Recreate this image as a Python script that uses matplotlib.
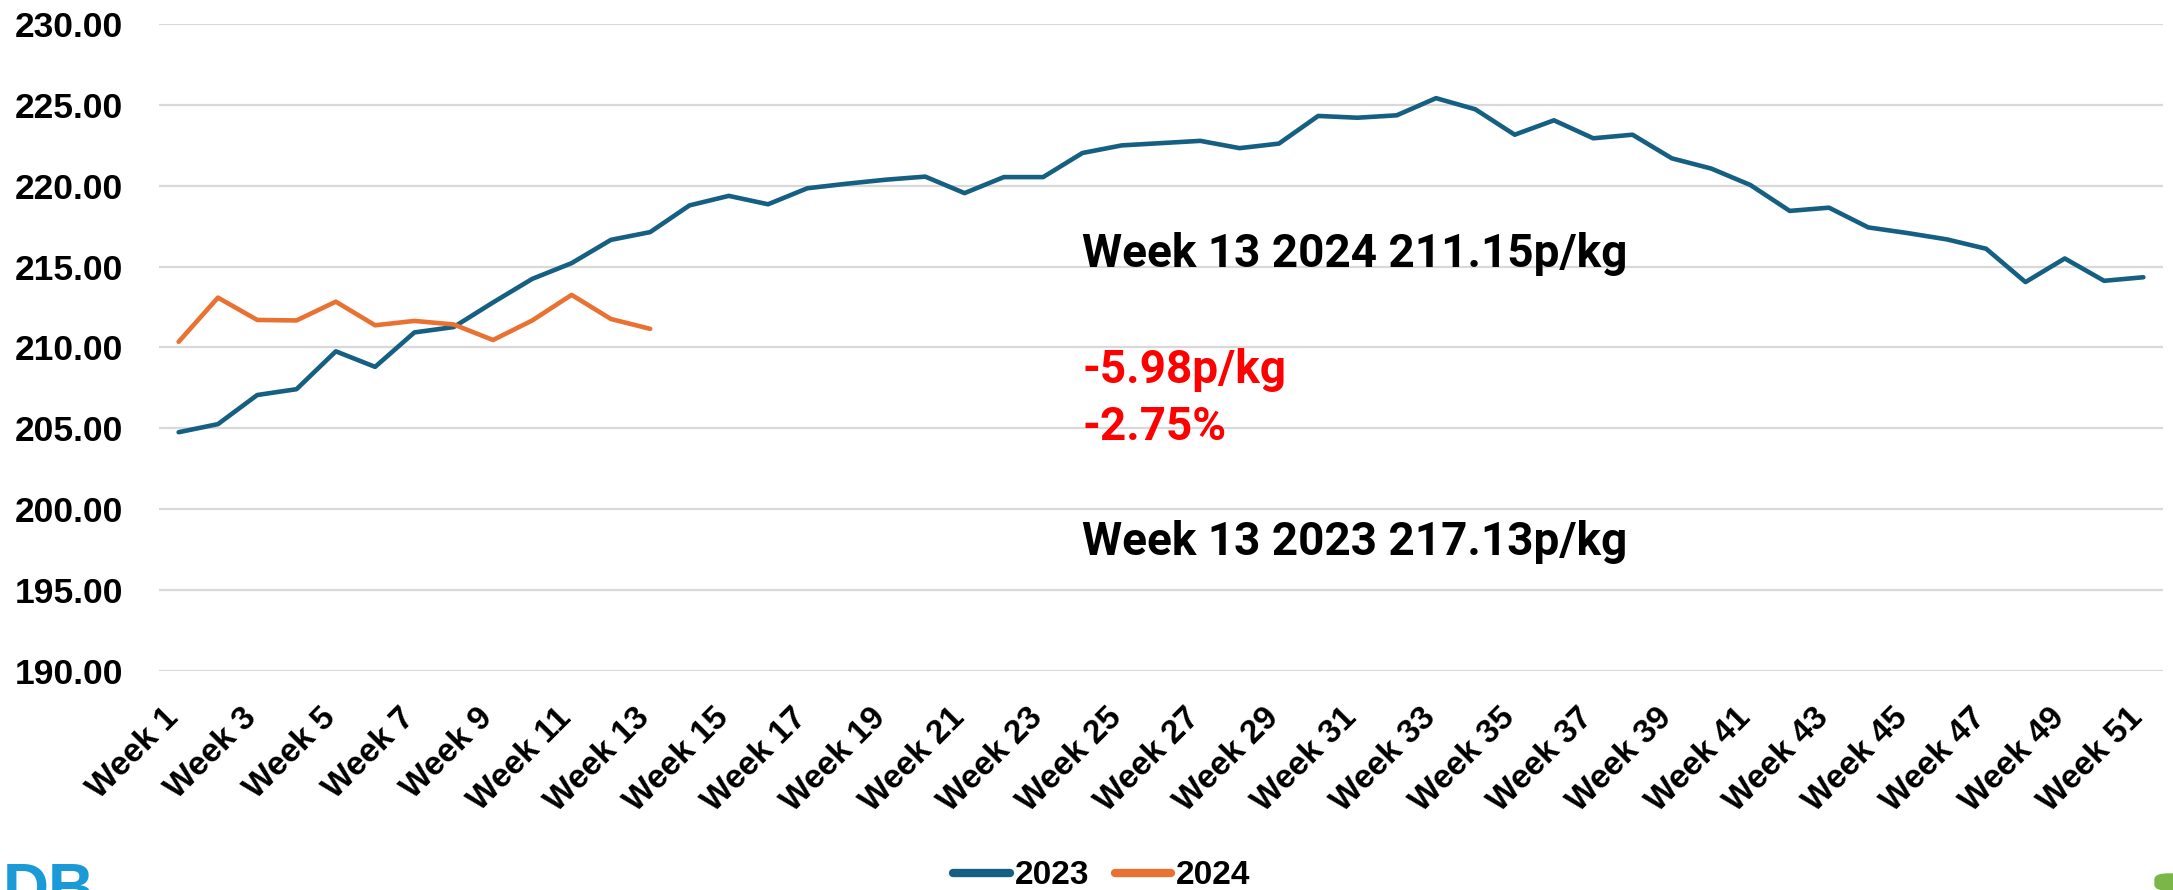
import matplotlib
matplotlib.use("Agg")
import matplotlib.pyplot as plt
import matplotlib.transforms as mtransforms
from matplotlib.patches import FancyBboxPatch

# weekly prices, p/kg
weeks = ["Week %d" % i for i in range(1, 52)]
price_2023 = [204.76, 205.26, 207.06, 207.42, 209.76, 208.80, 210.93, 211.26, 212.78, 214.24,
              215.21, 216.65, 217.13, 218.78, 219.37, 218.85, 219.84, 220.12, 220.37, 220.56,
              219.54, 220.53, 220.53, 222.02, 222.49, 222.63, 222.77, 222.32, 222.60, 224.31,
              224.20, 224.35, 225.41, 224.72, 223.15, 224.04, 222.93, 223.15, 221.69, 221.06,
              220.04, 218.44, 218.64, 217.42, 217.07, 216.68, 216.10, 214.04, 215.50, 214.12,
              214.34]
price_2024 = [210.35, 213.08, 211.70, 211.67, 212.83, 211.37, 211.64, 211.42, 210.46, 211.67,
              213.25, 211.76, 211.15]
yticks = [190, 195, 200, 205, 210, 215, 220, 225, 230]

blue = "#156082"
orange = "#E97132"
tick_font = "Liberation Sans"
note_font = "Roboto"

fig = plt.figure(figsize=(21.73, 8.90), dpi=100)
ax = fig.add_axes([159 / 2173, 1 - 671 / 890, (2163 - 159) / 2173, (671 - 23.9) / 890])

x23 = list(range(len(price_2023)))
x24 = list(range(len(price_2024)))
ax.plot(x23, price_2023, color=blue, lw=3.3, solid_capstyle="round", solid_joinstyle="round", label="2023", zorder=3)
ax.plot(x24, price_2024, color=orange, lw=3.3, solid_capstyle="round", solid_joinstyle="round", label="2024", zorder=3)

ax.set_xlim(-0.5, len(weeks) - 0.5)
ax.set_ylim(190, 230)
ax.set_yticks(yticks)
ax.set_yticklabels(["%.2f" % v for v in yticks], fontsize=25.5, fontweight="bold", family=tick_font)
ax.yaxis.grid(True, color="#D9D9D9", lw=1.6)
ax.set_axisbelow(True)
for s in ax.spines.values():
    s.set_visible(False)
ax.tick_params(axis="both", length=0)
ax.tick_params(axis="y", pad=26)

ax.set_xticks(x23[::2])
ax.set_xticklabels(weeks[::2], rotation=45, ha="right", va="top", rotation_mode="anchor",
                   fontsize=24, fontweight="bold", family=tick_font)
ax.tick_params(axis="x", pad=24)
off = mtransforms.ScaledTranslation(-16 / 100, 2 / 100, fig.dpi_scale_trans)
for lab in ax.get_xticklabels():
    lab.set_transform(lab.get_transform() + off)

# notes
ax.text(23.0, 214.98, "Week 13 2024 211.15p/kg", fontsize=33, fontweight="bold", family=note_font, va="baseline")
ax.text(23.0, 207.8, "-5.98p/kg", fontsize=33, fontweight="bold", family=note_font, color="red", va="baseline")
ax.text(23.0, 204.27, "-2.75%", fontsize=33, fontweight="bold", family=note_font, color="red", va="baseline")
ax.text(23.0, 197.15, "Week 13 2023 217.13p/kg", fontsize=33, fontweight="bold", family=note_font, va="baseline")

leg = fig.legend(loc="center", bbox_to_anchor=(1102 / 2173, 1 - 876 / 890), ncol=2, frameon=False,
                 prop={"family": tick_font, "weight": "bold", "size": 24},
                 handlelength=1.7, handletextpad=0.15, columnspacing=0.75)
for h in leg.get_lines():
    h.set_linewidth(6)

# logo fragments at the bottom corners
fig.text(3 / 2173, 1 - 909 / 890, "DB", color="#1A9AD6", fontsize=46, fontweight="bold", family=tick_font,
         ha="left", va="baseline")
fig.patches.append(FancyBboxPatch((2155 / 2173, 1 - 890 / 890), 30 / 2173, 16 / 890,
                                  boxstyle="round,pad=0,rounding_size=0.006",
                                  transform=fig.transFigure, color="#7AB648", figure=fig))

fig.savefig("out.png", dpi=100)
